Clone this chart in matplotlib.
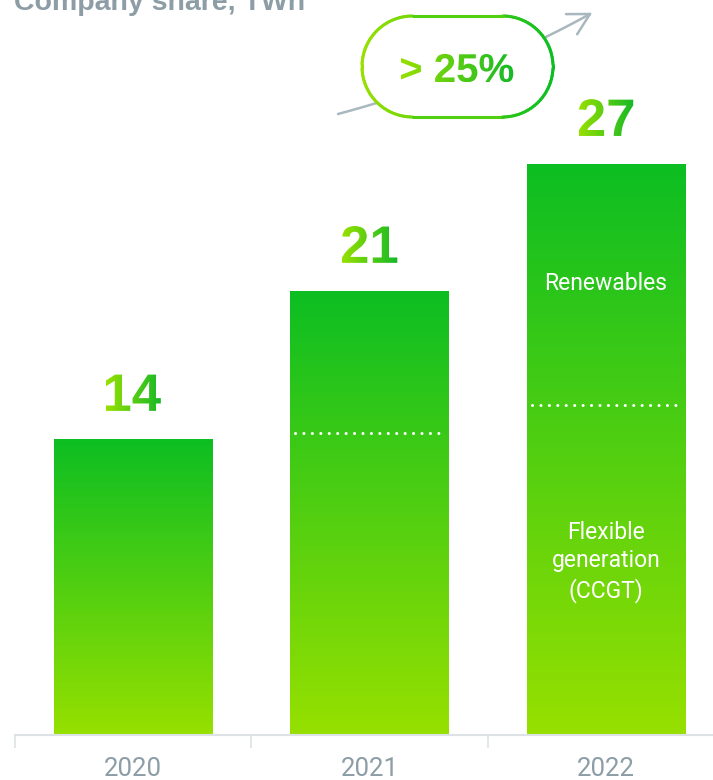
import numpy as np
import matplotlib
matplotlib.use("Agg")
from matplotlib import pyplot as plt
from matplotlib.colors import LinearSegmentedColormap
from matplotlib.textpath import TextPath
from matplotlib.font_manager import FontProperties
from matplotlib.patches import PathPatch
from matplotlib.transforms import Affine2D
from matplotlib.collections import LineCollection

# Data
years = ["2020", "2021", "2022"]
totals = [14, 21, 27]
flexible = [14, 14.3, 15.6]          # CCGT part, dotted separator height
growth_label = "> 25%"
title = "Company share, TWh"

# Style
W, H, DPI = 713, 780, 100
LIME = "#97E000"
GREEN = "#0CBE22"
GREY = "#8C9DA6"
ARROW_GREY = "#A9B8BF"
AXIS_GREY = "#DDE3E5"
BAR_WIDTH = 0.67

bar_cmap = LinearSegmentedColormap.from_list("bar", [LIME, GREEN])
text_cmap = LinearSegmentedColormap.from_list("txt", [LIME, "#15B927"])

fig = plt.figure(figsize=(W / DPI, H / DPI), dpi=DPI)

# main axes: baseline 45 px above bottom, 21.15 px per TWh
ax = fig.add_axes([0, 45 / H, 1, 735 / H])
ax.set_xlim(-0.564, 2.453)
ax.set_ylim(0, 735 / 21.15)
x = np.arange(len(years))

bars = ax.bar(x, totals, width=BAR_WIDTH, color="none", edgecolor="none")
grad = np.linspace(0, 1, 256).reshape(-1, 1)
for b in bars:
    im = ax.imshow(grad, cmap=bar_cmap, aspect="auto", origin="lower",
                   extent=(b.get_x(), b.get_x() + b.get_width(), 0, b.get_height()),
                   zorder=2)
    im.set_clip_path(b)
ax.set_xlim(-0.564, 2.453)
ax.set_ylim(0, 735 / 21.15)

# dotted split between flexible generation and renewables
for xi, f, t in zip(x, flexible, totals):
    if f < t:
        ax.hlines(f, xi - BAR_WIDTH / 2 + 0.02, xi + BAR_WIDTH / 2 - 0.01,
                  colors="white", linewidth=2.2, linestyles=(0, (0.01, 2.75)),
                  capstyle="round", zorder=3)

# segment labels inside the 2022 bar
ax.text(2, (flexible[2] + totals[2]) / 2 + 0.05, "Renewables", ha="center",
        va="center", color="white", fontsize=16.5, family="Roboto", zorder=4)
ax.text(2, flexible[2] / 2 + 0.38, "Flexible\ngeneration\n(CCGT)", ha="center",
        va="center", color="white", fontsize=16.5, family="Roboto",
        linespacing=1.27, zorder=4)

# x axis
for s in ["top", "right", "left"]:
    ax.spines[s].set_visible(False)
ax.spines["bottom"].set_color(AXIS_GREY)
ax.spines["bottom"].set_linewidth(1.5)
ax.spines["bottom"].set_bounds(-0.5, 2.453)
ax.set_yticks([])
ax.set_xticks(x)
ax.set_xticklabels(years, family="Roboto", fontsize=18.5, color=GREY)
ax.tick_params(axis="x", which="major", length=0, pad=16)
ax.set_xticks([-0.5, 0.5, 1.5], minor=True)
ax.tick_params(axis="x", which="minor", length=9, width=1.2, color=AXIS_GREY)
ax.patch.set_alpha(0)

# overlay in pixel coordinates for the annotations
ov = fig.add_axes([0, 0, 1, 1], zorder=5)
ov.set_xlim(0, W)
ov.set_ylim(0, H)
ov.axis("off")
ov.patch.set_alpha(0)


def gradient_text(cx, base_y, s, size, cmap):
    prop = FontProperties(family="Liberation Sans", weight="bold")
    tp = TextPath((0, 0), s, size=size, prop=prop)
    ext = tp.get_extents()
    k = DPI / 72
    tr = Affine2D().translate(-(ext.x0 + ext.x1) / 2, 0).scale(k).translate(cx, base_y)
    path = tr.transform_path(tp)
    patch = PathPatch(path, facecolor="none", edgecolor="none", transform=ov.transData)
    ov.add_patch(patch)
    e = path.get_extents()
    g = np.linspace(0, 1, 256).reshape(1, -1)
    im = ov.imshow(g, cmap=cmap, aspect="auto", extent=(e.x0, e.x1, e.y0, e.y1), zorder=6)
    im.set_clip_path(patch)


# value labels above bars
for xi, t in zip(x, totals):
    px, py = ax.transData.transform((xi, t))
    gradient_text(px, py + 28, str(t), 38, text_cmap)


# growth arrow (curved) behind the pill
def img(px, py):
    return px, H - py


p0, pc, p1 = np.array(img(338, 114)), np.array(img(476, 77)), np.array(img(590, 14))
tt = np.linspace(0, 1, 60)[:, None]
curve = (1 - tt) ** 2 * p0 + 2 * (1 - tt) * tt * pc + tt ** 2 * p1
ov.plot(curve[:, 0], curve[:, 1], color=ARROW_GREY, lw=1.8, solid_capstyle="round", zorder=2)
d = p1 - pc
d = d / np.hypot(*d)
for ang in (0.5, -0.5):
    rot = np.array([[np.cos(ang), -np.sin(ang)], [np.sin(ang), np.cos(ang)]])
    arm = p1 - 24 * rot @ d
    ov.plot([p1[0], arm[0]], [p1[1], arm[1]], color=ARROW_GREY, lw=1.8,
            solid_capstyle="round", zorder=2)

# pill with gradient outline
x0, x1, ytop, ybot = 362, 553, H - 16, H - 117
r = (ytop - ybot) / 2
cy = (ytop + ybot) / 2
a1 = np.linspace(np.pi / 2, 3 * np.pi / 2, 60)
a2 = np.linspace(-np.pi / 2, np.pi / 2, 60)
left = np.column_stack([x0 + r + r * np.cos(a1), cy + r * np.sin(a1)])
right = np.column_stack([x1 - r + r * np.cos(a2), cy + r * np.sin(a2)])
outline = np.vstack([left, right, left[:1]])
ov.fill(outline[:, 0], outline[:, 1], color="white", zorder=3)
segs = np.stack([outline[:-1], outline[1:]], axis=1)
cols = bar_cmap((segs[:, :, 0].mean(axis=1) - x0) / (x1 - x0))
ov.add_collection(LineCollection(segs, colors=cols, linewidths=2.2, zorder=4,
                                 capstyle="round"))
gradient_text(457, H - 82, growth_label, 29, text_cmap)

# title (partly cropped at the top)
ov.text(14, H - 10, title, fontsize=20.5, fontweight="bold", color=GREY,
        family="Liberation Sans", va="baseline", ha="left")

fig.savefig("out.png", dpi=DPI)
